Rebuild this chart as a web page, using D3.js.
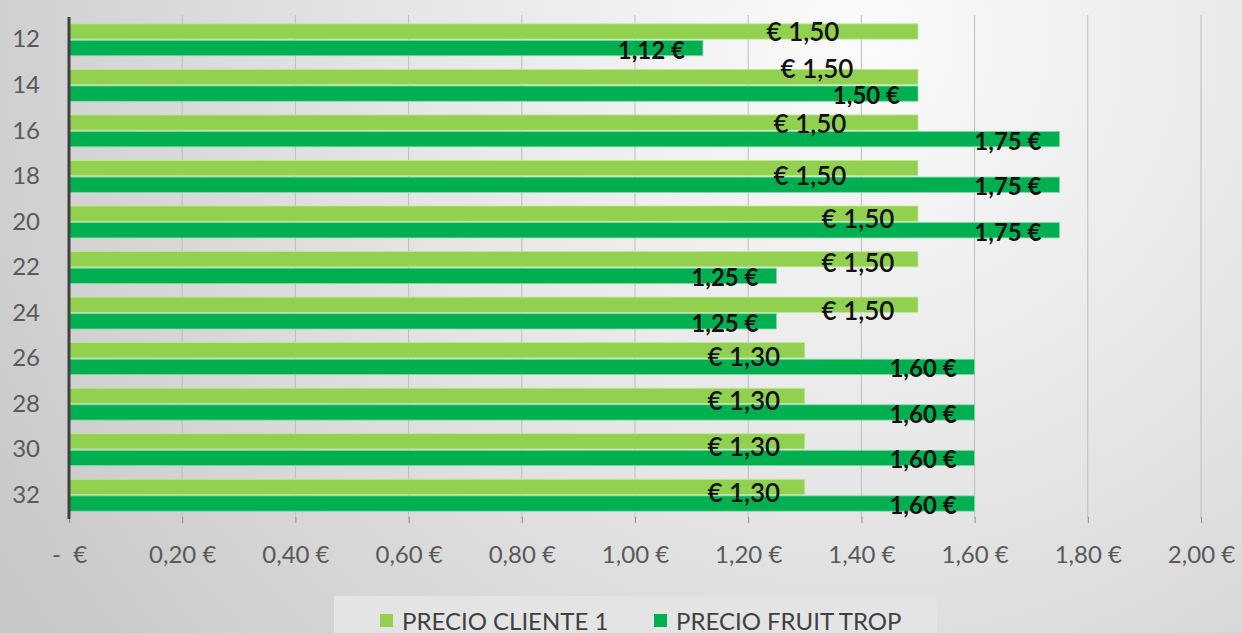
<!DOCTYPE html>
<html>
<head>
<meta charset="utf-8">
<script src="https://cdn.jsdelivr.net/npm/d3@7"></script>
<style>
  html, body { margin: 0; padding: 0; }
  body { width: 1242px; height: 633px; overflow: hidden; font-family: Lato, "Open Sans", sans-serif; }
</style>
</head>
<body>
<svg id="chart" width="1242" height="633"></svg>
<script>
// sizes (categories on the y axis)
const sizes = ["12", "14", "16", "18", "20", "22", "24", "26", "28", "30", "32"];
// price per size, client 1
const precioCliente = [1.50, 1.50, 1.50, 1.50, 1.50, 1.50, 1.50, 1.30, 1.30, 1.30, 1.30];
// price per size, Fruit Trop
const precioFruitTrop = [1.12, 1.50, 1.75, 1.75, 1.75, 1.25, 1.25, 1.60, 1.60, 1.60, 1.60];
const xTicks = [0, 0.2, 0.4, 0.6, 0.8, 1.0, 1.2, 1.4, 1.6, 1.8, 2.0];
const seriesNames = ["PRECIO CLIENTE 1", "PRECIO FRUIT TROP"];

// hand-dragged label offsets for the light series (like in the excel sheet)
const lightLabelDx = [-115, -101, -108, -108, -60, -60, -60, -61, -61, -61, -61];
const lightLabelDy = [0, -9, 0, 7, 4, 3, 5, 6, 4, 5, 5];

const colors = ["#92D050", "#00B050"];
const width = 1242, height = 633;
const svg = d3.select("#chart");

// background gradient
const defs = svg.append("defs");
const grad = defs.append("radialGradient")
    .attr("id", "bg")
    .attr("gradientUnits", "userSpaceOnUse")
    .attr("cx", 860).attr("cy", 40).attr("r", 1000);
grad.append("stop").attr("offset", "0%").attr("stop-color", "#fbfbfb");
grad.append("stop").attr("offset", "45%").attr("stop-color", "#e6e6e6");
grad.append("stop").attr("offset", "100%").attr("stop-color", "#c8c8c8");
svg.append("rect").attr("width", width).attr("height", height).attr("fill", "url(#bg)");

// scales
const x = d3.scaleLinear().domain([0, 2]).range([69, 1201]);
const y = d3.scaleBand().domain(sizes).range([17, 518]).paddingInner(0.3).paddingOuter(0.15);
const ySub = d3.scaleBand().domain([0, 1]).range([0, y.bandwidth()]).paddingInner(0.08);

const data = sizes.map((s, i) => ({ size: s, values: [precioCliente[i], precioFruitTrop[i]], i: i }));

// gridlines
svg.append("g")
    .selectAll("line")
    .data(xTicks.slice(1))
    .join("line")
    .attr("x1", d => x(d)).attr("x2", d => x(d))
    .attr("y1", 15).attr("y2", 518)
    .attr("stroke", "#bdbdbd")
    .attr("stroke-width", 1);

// x axis (ticks + labels, no domain line)
const fmt = d => d === 0 ? "-  €" : d.toFixed(2).replace(".", ",") + " €";
const xAxis = svg.append("g")
    .attr("transform", "translate(0,517)")
    .call(d3.axisBottom(x).tickValues(xTicks).tickFormat(fmt).tickSize(6).tickPadding(23));
xAxis.select(".domain").remove();
xAxis.selectAll(".tick line").attr("stroke", "#8a8a8a");
xAxis.selectAll(".tick text")
    .attr("fill", "#595959")
    .style("font-size", "24px")
    .style("font-family", "Lato, sans-serif")
    .style("white-space", "pre");

// y axis
const yAxis = svg.append("g")
    .attr("transform", "translate(69,0)")
    .call(d3.axisLeft(y).tickSize(0).tickPadding(29));
yAxis.select(".domain").remove();
yAxis.selectAll(".tick text")
    .attr("fill", "#595959")
    .style("font-size", "24px")
    .style("font-family", "Lato, sans-serif");

// bars
const groups = svg.append("g")
    .selectAll("g")
    .data(data)
    .join("g")
    .attr("transform", d => `translate(0,${y(d.size)})`);

groups.selectAll("rect")
    .data(d => d.values.map((v, k) => ({ v: v, k: k })))
    .join("rect")
    .attr("x", x(0))
    .attr("y", d => ySub(d.k))
    .attr("width", d => x(d.v) - x(0))
    .attr("height", ySub.bandwidth())
    .attr("fill", d => colors[d.k])
    .attr("stroke", d => d.k === 0 ? "#c2e89a" : "#7fd8a3")
    .attr("stroke-width", 0.8);

// vertical axis line
svg.append("line")
    .attr("x1", 69).attr("x2", 69)
    .attr("y1", 17).attr("y2", 519)
    .attr("stroke", "#404040")
    .attr("stroke-width", 3);

// data labels - client (light)
svg.append("g")
    .selectAll("text")
    .data(data)
    .join("text")
    .attr("x", d => x(d.values[0]) + lightLabelDx[d.i])
    .attr("y", d => y(d.size) + ySub(0) + ySub.bandwidth() / 2 + lightLabelDy[d.i])
    .attr("text-anchor", "middle")
    .attr("dominant-baseline", "central")
    .attr("fill", "#111")
    .style("font-size", "26px")
    .style("font-weight", "600")
    .text(d => "€ " + d.values[0].toFixed(2).replace(".", ","));

// data labels - fruit trop (dark)
svg.append("g")
    .selectAll("text")
    .data(data)
    .join("text")
    .attr("x", d => x(d.values[1]) - 18)
    .attr("y", d => y(d.size) + ySub(1) + ySub.bandwidth() / 2 + 1)
    .attr("text-anchor", "end")
    .attr("dominant-baseline", "central")
    .attr("fill", "#111")
    .style("font-size", "24px")
    .style("font-weight", "700")
    .text(d => d.values[1].toFixed(2).replace(".", ",") + " €");

// legend
const legend = svg.append("g");
legend.append("rect")
    .attr("x", 334).attr("y", 596)
    .attr("width", 603).attr("height", 40)
    .attr("fill", "#e4e4e4");
const legendX = [380, 654];
seriesNames.forEach((name, k) => {
    legend.append("rect")
        .attr("x", legendX[k]).attr("y", 614)
        .attr("width", 13).attr("height", 13)
        .attr("fill", colors[k]);
    legend.append("text")
        .attr("x", legendX[k] + 22).attr("y", 620)
        .attr("dominant-baseline", "central")
        .attr("fill", "#404040")
        .style("font-size", "24px")
        .text(name);
});
</script>
</body>
</html>
